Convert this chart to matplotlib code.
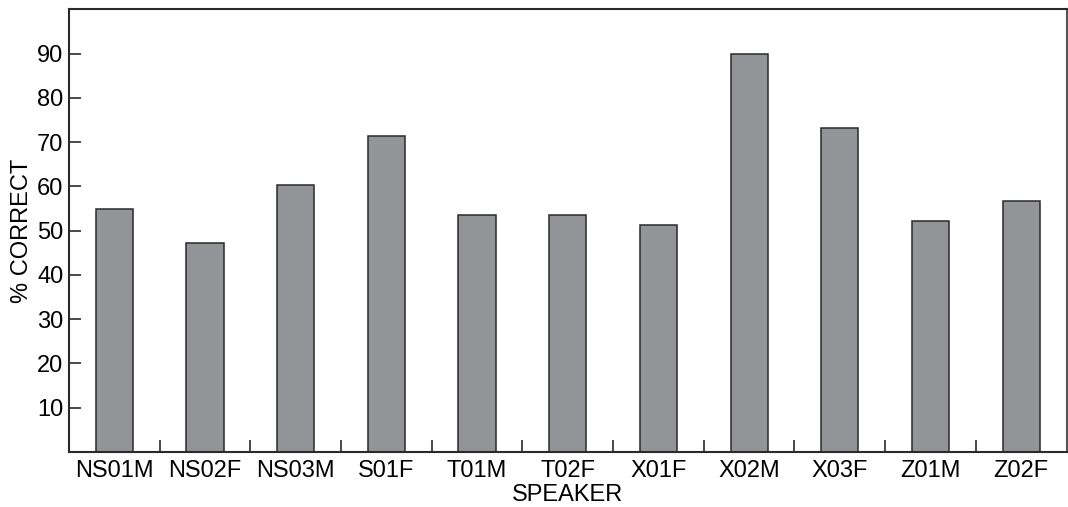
import matplotlib
matplotlib.use("Agg")
import matplotlib.pyplot as plt
import numpy as np

speakers = ["NS01M", "NS02F", "NS03M", "S01F", "T01M", "T02F",
            "X01F", "X02M", "X03F", "Z01M", "Z02F"]
pct_correct = [55.0, 47.2, 60.3, 71.3, 53.6, 53.6, 51.3, 90.0, 73.3, 52.3, 56.6]
y_ticks = [10, 20, 30, 40, 50, 60, 70, 80, 90]

plt.rcParams["font.family"] = ["Liberation Sans", "DejaVu Sans"]
FS = 17

fig = plt.figure(figsize=(10.68, 5.07), dpi=100)
ax = fig.add_axes([0.0646, 0.1085, 0.934, 0.873])

x = np.arange(len(speakers))
ax.bar(x, pct_correct, width=0.41, color="#939498",
       edgecolor="#2a2a2a", linewidth=1.1, zorder=2)

ax.set_xlim(-0.5, len(speakers) - 0.5)
ax.set_ylim(0, 100)

ax.set_yticks(y_ticks)
ax.set_yticklabels([str(v) for v in y_ticks])
ax.tick_params(axis="y", direction="in", length=8.5, width=1.2,
               color="#2a2a2a", labelsize=FS, pad=4)

ax.set_xticks(x)
ax.set_xticklabels(speakers)
ax.tick_params(axis="x", which="major", length=0, labelsize=FS, pad=5.5)
ax.set_xticks(np.arange(-0.5, len(speakers)), minor=True)
ax.tick_params(axis="x", which="minor", direction="in", length=8.5,
               width=1.2, color="#2a2a2a")

for side in ["left", "bottom", "top"]:
    ax.spines[side].set_color("#2a2a2a")
    ax.spines[side].set_linewidth(1.5)
ax.spines["right"].set_color("#555555")
ax.spines["right"].set_linewidth(1.5)

ax.set_xlabel("SPEAKER", fontsize=FS, labelpad=2)
ax.set_ylabel("% CORRECT", fontsize=FS, labelpad=3)

fig.savefig("out.png", dpi=100)
